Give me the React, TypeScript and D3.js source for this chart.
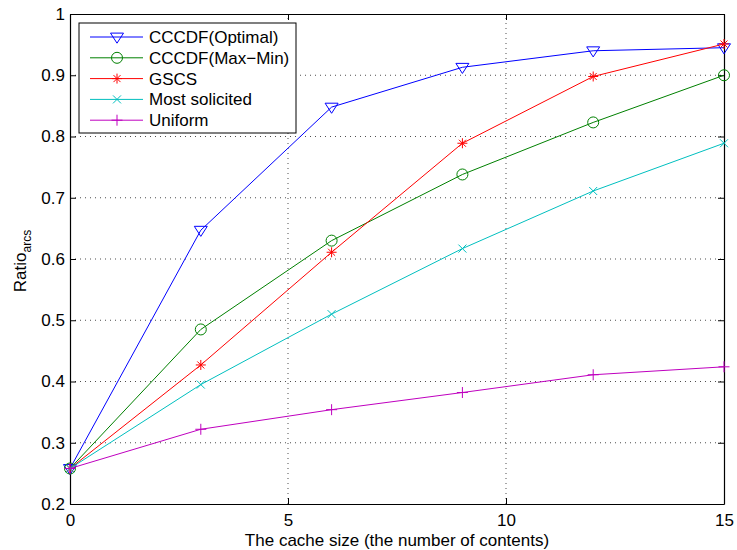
import React from 'react';
import * as d3 from 'd3';

const cacheSizes = [0, 3, 6, 9, 12, 15];
const optimal = [0.258, 0.647, 0.848, 0.913, 0.940, 0.945];
const maxMin = [0.258, 0.485, 0.630, 0.738, 0.823, 0.900];
const gscs = [0.258, 0.427, 0.611, 0.789, 0.898, 0.951];
const mostSolicited = [0.258, 0.395, 0.510, 0.617, 0.711, 0.789];
const uniform = [0.258, 0.322, 0.354, 0.382, 0.411, 0.424];

const xTicks = [0, 5, 10, 15];
const yTicks = [0.2, 0.3, 0.4, 0.5, 0.6, 0.7, 0.8, 0.9, 1];

const series = [
  { name: 'CCCDF(Optimal)', values: optimal, color: '#0000ff', marker: 'triangle' },
  { name: 'CCCDF(Max\u2212Min)', values: maxMin, color: '#008000', marker: 'circle' },
  { name: 'GSCS', values: gscs, color: '#ff0000', marker: 'star' },
  { name: 'Most solicited', values: mostSolicited, color: '#00bfbf', marker: 'x' },
  { name: 'Uniform', values: uniform, color: '#bf00bf', marker: 'plus' },
];

const drawMarker = (g, type, cx, cy, color) => {
  if (type === 'triangle') {
    const s = 6.5;
    g.append('path')
      .attr('d', `M${cx - s},${cy - s * 0.6}L${cx + s},${cy - s * 0.6}L${cx},${cy + s * 0.95}Z`)
      .attr('fill', 'none').attr('stroke', color).attr('stroke-width', 1);
  } else if (type === 'circle') {
    g.append('circle').attr('cx', cx).attr('cy', cy).attr('r', 5.5)
      .attr('fill', 'none').attr('stroke', color).attr('stroke-width', 1);
  } else if (type === 'star') {
    const s = 5;
    const d = `M${cx - s},${cy}L${cx + s},${cy}M${cx},${cy - s}L${cx},${cy + s}` +
      `M${cx - s * 0.7},${cy - s * 0.7}L${cx + s * 0.7},${cy + s * 0.7}` +
      `M${cx - s * 0.7},${cy + s * 0.7}L${cx + s * 0.7},${cy - s * 0.7}`;
    g.append('path').attr('d', d).attr('stroke', color).attr('stroke-width', 1);
  } else if (type === 'x') {
    const s = 4;
    g.append('path')
      .attr('d', `M${cx - s},${cy - s}L${cx + s},${cy + s}M${cx - s},${cy + s}L${cx + s},${cy - s}`)
      .attr('stroke', color).attr('stroke-width', 1);
  } else {
    const s = 5.5;
    g.append('path')
      .attr('d', `M${cx - s},${cy}L${cx + s},${cy}M${cx},${cy - s}L${cx},${cy + s}`)
      .attr('stroke', color).attr('stroke-width', 1);
  }
};

const Chart = () => {
  const svgRef = React.useRef(null);
  const width = 737;
  const height = 550;
  const margin = { top: 14, right: 13, bottom: 46, left: 70 };

  React.useEffect(() => {
    const svg = d3.select(svgRef.current);
    svg.selectAll('*').remove();

    const x = d3.scaleLinear().domain([0, 15]).range([margin.left, width - margin.right]);
    const y = d3.scaleLinear().domain([0.2, 1]).range([height - margin.bottom, margin.top]);
    const font = 'Liberation Sans, Arial, Helvetica, sans-serif';
    const fs = '17px';

    svg.append('rect').attr('width', width).attr('height', height).attr('fill', '#fff');

    // grid
    const grid = svg.append('g').attr('stroke', '#000').attr('stroke-width', 0.7)
      .attr('stroke-dasharray', '1,4');
    xTicks.slice(1, -1).forEach(t => {
      grid.append('line').attr('x1', x(t)).attr('x2', x(t)).attr('y1', y(0.2)).attr('y2', y(1));
    });
    yTicks.slice(1, -1).forEach(t => {
      grid.append('line').attr('x1', x(0)).attr('x2', x(15)).attr('y1', y(t)).attr('y2', y(t));
    });

    // axes with inward ticks on all sides
    const tickLen = 6;
    const axes = svg.append('g');
    axes.append('g').attr('transform', `translate(0,${y(0.2)})`)
      .call(d3.axisBottom(x).tickValues(xTicks).tickSizeInner(-tickLen).tickSizeOuter(0).tickPadding(10));
    axes.append('g').attr('transform', `translate(0,${y(1)})`)
      .call(d3.axisTop(x).tickValues(xTicks).tickSizeInner(-tickLen).tickSizeOuter(0).tickFormat(() => ''));
    axes.append('g').attr('transform', `translate(${x(0)},0)`)
      .call(d3.axisLeft(y).tickValues(yTicks).tickSizeInner(-tickLen).tickSizeOuter(0).tickPadding(5)
        .tickFormat(d => (d === 1 ? '1' : d3.format('.1f')(d))));
    axes.append('g').attr('transform', `translate(${x(15)},0)`)
      .call(d3.axisRight(y).tickValues(yTicks).tickSizeInner(-tickLen).tickSizeOuter(0).tickFormat(() => ''));
    axes.selectAll('.domain').attr('stroke', '#000').attr('stroke-width', 1.2);
    axes.selectAll('.tick line').attr('stroke', '#000');
    axes.selectAll('.tick text').attr('fill', '#000').style('font-size', fs).style('font-family', font);

    // lines
    const line = d3.line().x(d => x(d[0])).y(d => y(d[1]));
    series.forEach(s => {
      const pts = cacheSizes.map((c, i) => [c, s.values[i]]);
      svg.append('path').datum(pts).attr('d', line).attr('fill', 'none')
        .attr('stroke', s.color).attr('stroke-width', 1);
      const mg = svg.append('g');
      pts.forEach(p => drawMarker(mg, s.marker, x(p[0]), y(p[1]), s.color));
    });

    // legend
    const lg = svg.append('g');
    lg.append('rect').attr('x', 79).attr('y', 23).attr('width', 217).attr('height', 110)
      .attr('fill', '#fff').attr('stroke', '#000').attr('stroke-width', 1);
    series.forEach((s, i) => {
      const ly = 37 + i * 20.8;
      lg.append('line').attr('x1', 90).attr('x2', 143).attr('y1', ly).attr('y2', ly)
        .attr('stroke', s.color).attr('stroke-width', 1);
      drawMarker(lg, s.marker, 117, ly, s.color);
      lg.append('text').attr('x', 149).attr('y', ly + 6).text(s.name)
        .style('font-size', fs).style('font-family', font).attr('fill', '#000');
    });

    // axis labels
    svg.append('text').attr('x', x(7.5)).attr('y', 546).attr('text-anchor', 'middle')
      .style('font-size', fs).style('font-family', font).text('The cache size (the number of contents)');
    const yl = svg.append('text').attr('transform', `translate(26,261) rotate(-90)`)
      .attr('text-anchor', 'middle').style('font-size', fs).style('font-family', font);
    yl.append('tspan').text('Ratio');
    yl.append('tspan').attr('dy', 5).style('font-size', '12px').text('arcs');
  // eslint-disable-next-line react-hooks/exhaustive-deps
  }, []);

  return (
    <svg ref={svgRef} width={width} height={height}
      style={{ display: 'block', position: 'fixed', left: 0, top: 0 }} />
  );
};

export default function App() {
  return <Chart />;
}
